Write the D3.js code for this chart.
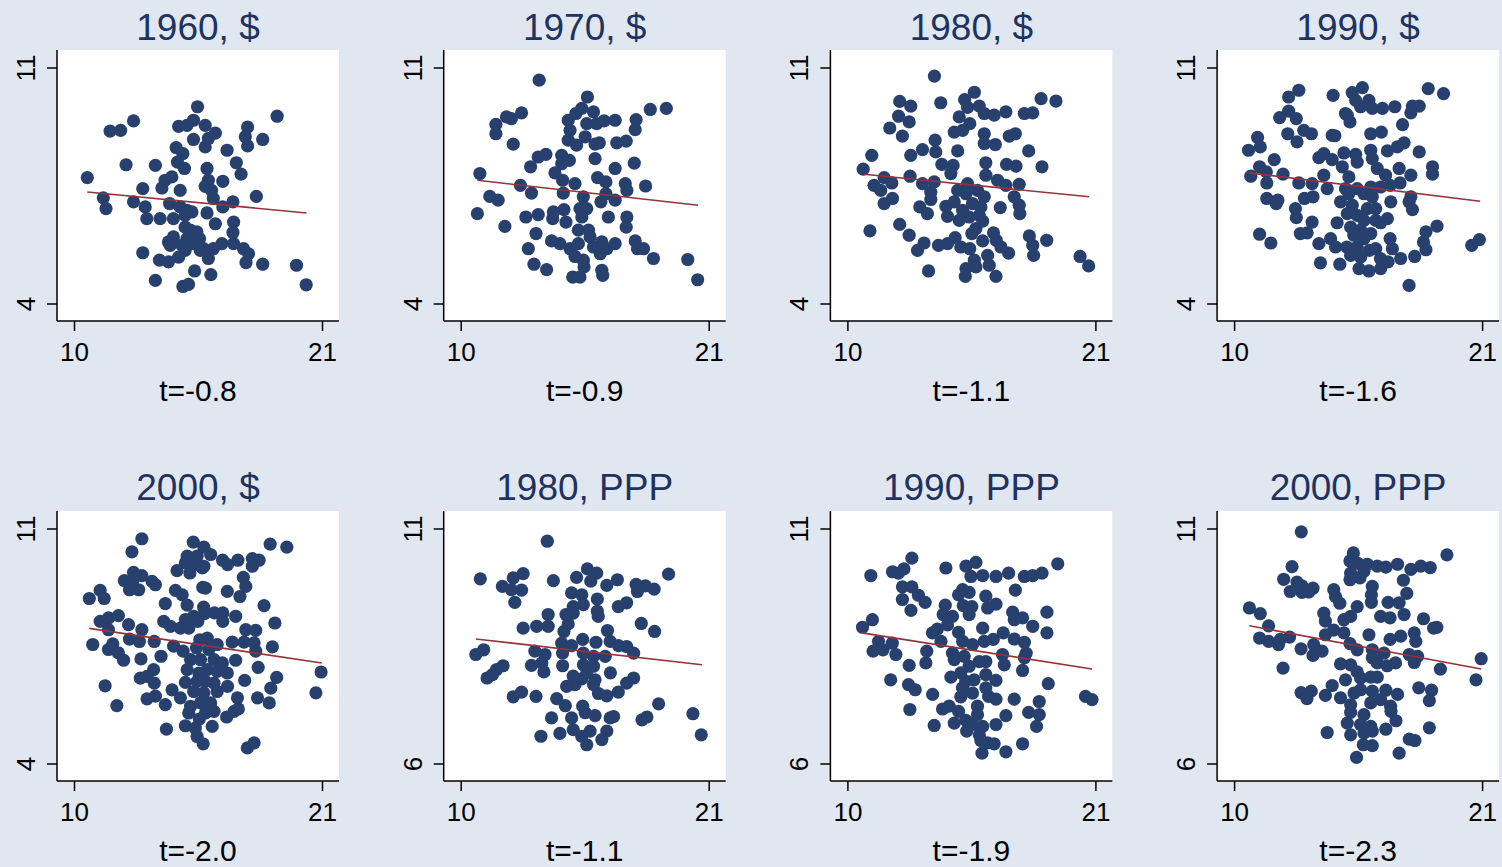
<!DOCTYPE html>
<html>
<head>
<meta charset="utf-8">
<script src="https://cdn.jsdelivr.net/npm/d3@7"></script>
<style>
  body { margin: 0; background: #e1e7f1; }
  svg { display: block; }
  text { font-family: "Liberation Sans", Arial, sans-serif; }
</style>
</head>
<body>
<div id="chart"></div>
<script>
// panel titles / footers, reading order
let titles = ['1960, $', '1970, $', '1980, $', '1990, $', '2000, $', '1980, PPP', '1990, PPP', '2000, PPP'];
let tLabels = ['t=-0.8', 't=-0.9', 't=-1.1', 't=-1.6', 't=-2.0', 't=-1.1', 't=-1.9', 't=-2.3'];
let xTicks = [10, 21];
let yTicks = [[4, 11], [4, 11], [4, 11], [4, 11], [4, 11], [6, 11], [6, 11], [6, 11]];

// fitted line endpoints [x0, y0, x1, y1]
let fits = [
    [10.59, 7.32, 20.31, 6.70],
    [10.74, 7.67, 20.53, 6.93],
    [10.74, 7.85, 20.73, 7.18],
    [10.67, 7.89, 20.91, 7.05],
    [10.68, 8.04, 20.99, 7.01],
    [10.67, 8.66, 20.70, 8.11],
    [10.64, 8.79, 20.85, 8.02],
    [10.68, 8.94, 20.96, 8.02]
];

let usd1960 = [
    [10.59,7.75],[11.30,7.15],[11.42,6.83],[11.60,9.13],[12.07,9.15],[12.64,9.43],[12.31,8.13],[13.05,7.42],
    [12.64,7.03],[13.16,6.88],[13.23,6.53],[13.05,5.52],[13.61,8.11],[13.82,6.53],[13.90,7.44],[14.04,7.67],
    [14.34,7.77],[14.24,6.98],[14.41,6.53],[13.79,5.30],[14.19,5.25],[14.19,5.84],[14.41,5.99],[13.61,4.70],
    [14.83,4.52],[15.08,4.58],[15.35,4.98],[16.07,4.87],[14.71,7.37],[14.53,8.64],[14.83,8.46],[14.59,8.21],
    [14.90,8.02],[14.64,9.27],[15.01,9.30],[15.30,9.45],[15.48,9.85],[15.82,9.30],[16.27,9.07],[15.30,8.88],
    [15.82,8.66],[15.96,8.91],[15.90,8.02],[15.96,7.67],[15.82,7.49],[16.10,7.37],[16.18,7.13],[16.60,7.64],
    [16.79,8.56],[17.20,8.19],[17.41,7.85],[17.70,9.25],[17.60,8.96],[17.70,8.69],[18.37,8.88],[19.01,9.57],
    [18.09,7.19],[17.05,7.03],[16.60,6.88],[15.01,6.78],[15.23,6.73],[14.93,6.63],[15.90,6.70],[16.27,6.38],
    [17.08,6.43],[17.05,6.12],[14.93,6.28],[15.16,6.19],[15.45,6.14],[15.57,5.94],[14.79,5.74],[14.93,5.59],
    [14.64,5.39],[15.75,5.64],[15.96,5.35],[16.18,5.64],[16.56,5.79],[17.08,5.79],[17.52,5.64],[17.74,5.49],
    [17.63,5.23],[18.37,5.18],[19.87,5.15],[20.30,4.57],[14.71,6.88],[14.27,5.74],[15.23,5.79],[15.60,5.59],
    [15.01,5.94]
];

let usd1970 = [
    [13.48,10.64],[15.62,10.14],[12.70,9.67],[12.03,9.55],[12.25,9.50],[11.56,9.33],[11.56,9.05],[12.33,8.74],
    [10.85,7.87],[11.29,7.19],[11.66,7.08],[10.74,6.68],[11.96,6.30],[12.65,7.52],[13.14,7.29],[13.10,8.07],
    [13.44,8.36],[13.78,8.44],[12.89,6.58],[13.44,6.65],[13.34,6.09],[13.00,5.64],[13.25,5.18],[13.81,5.02],
    [14.03,5.87],[14.08,6.53],[14.11,6.73],[14.40,5.79],[14.18,7.89],[14.48,8.41],[14.48,8.16],[14.82,8.26],
    [14.52,7.67],[15.07,7.57],[14.55,7.29],[14.58,6.80],[14.67,6.43],[14.77,9.45],[14.85,9.15],[14.77,8.86],
    [15.14,8.71],[15.11,9.65],[15.37,9.80],[15.89,9.70],[15.59,9.35],[16.03,9.35],[16.36,9.43],[16.85,9.45],
    [15.52,8.96],[15.96,8.74],[16.15,8.78],[15.96,8.31],[16.92,8.78],[17.34,8.83],[17.78,9.47],[17.74,9.17],
    [18.41,9.77],[19.12,9.80],[17.70,8.18],[16.85,8.02],[16.07,7.75],[16.44,7.62],[17.30,7.57],[17.37,7.37],
    [18.20,7.50],[16.44,7.27],[16.22,7.03],[16.85,7.08],[15.44,7.18],[15.29,6.83],[15.59,6.83],[15.37,6.58],
    [16.55,6.58],[17.37,6.58],[17.34,6.28],[15.22,6.19],[15.67,6.19],[15.74,5.99],[15.22,5.79],[14.85,5.64],
    [15.07,5.41],[15.44,5.30],[15.47,5.10],[14.97,4.80],[15.29,4.80],[15.89,5.69],[16.26,5.84],[16.19,5.49],
    [16.48,5.64],[16.85,5.79],[16.26,5.00],[16.30,4.85],[17.74,5.87],[17.84,5.64],[18.11,5.64],[18.55,5.35],
    [20.07,5.32],[20.51,4.72]
];

let usd1980 = [
    [13.86,10.76],[15.63,10.28],[12.32,10.01],[12.81,9.87],[14.14,9.97],[15.20,10.06],[15.33,9.83],[15.85,9.87],
    [16.07,9.65],[16.51,9.60],[17.03,9.70],[17.85,9.65],[18.22,9.67],[18.59,10.09],[19.25,10.02],[12.27,9.57],
    [12.74,9.40],[11.88,9.22],[12.44,8.98],[14.96,9.55],[15.43,9.35],[14.74,9.10],[15.11,9.15],[16.07,9.05],
    [17.18,8.98],[17.45,9.05],[13.89,8.86],[13.33,8.58],[13.92,8.51],[12.81,8.41],[14.89,8.54],[16.07,8.76],
    [16.56,8.73],[18.04,8.54],[11.08,8.41],[10.70,8.00],[14.19,8.14],[14.69,8.11],[14.59,7.87],[16.14,8.19],
    [17.06,8.14],[17.48,8.09],[18.63,8.07],[12.78,7.79],[11.63,7.75],[11.97,7.59],[11.18,7.52],[11.48,7.37],
    [13.33,7.57],[13.85,7.62],[13.70,7.32],[13.70,7.10],[12.00,7.13],[11.63,6.98],[16.14,7.82],[16.66,7.67],
    [17.03,7.52],[17.62,7.55],[15.33,7.57],[14.89,7.37],[15.26,7.27],[15.77,7.37],[16.07,7.18],[17.40,7.18],
    [17.62,6.93],[17.65,6.68],[16.78,6.86],[14.37,6.90],[14.74,7.03],[14.44,6.60],[15.11,6.78],[15.55,6.98],
    [15.92,6.88],[14.96,6.48],[15.40,6.58],[15.85,6.63],[16.00,6.46],[13.21,6.88],[13.55,6.68],[12.32,6.36],
    [11.00,6.17],[12.74,6.04],[13.40,5.81],[13.11,5.59],[14.04,5.74],[14.44,5.79],[14.78,5.97],[15.03,5.69],
    [15.43,5.64],[15.52,6.09],[15.70,6.24],[16.00,5.87],[16.48,6.11],[16.60,5.89],[16.81,5.69],[17.15,5.51],
    [16.22,5.44],[15.63,5.30],[15.70,5.10],[15.26,5.05],[15.23,4.82],[16.29,5.15],[16.59,4.82],[13.60,4.98],
    [18.07,6.02],[18.22,5.74],[18.26,5.44],[18.84,5.89],[20.32,5.41],[20.70,5.13]
];

let usd1990 = [
    [15.69,10.42],[15.24,10.27],[14.39,10.19],[12.87,10.34],[12.42,10.14],[18.61,10.39],[19.29,10.24],[15.39,10.04],
    [15.98,10.04],[15.61,9.85],[16.13,9.80],[16.58,9.80],[17.13,9.85],[17.91,9.87],[18.21,9.87],[17.84,9.67],
    [12.42,9.72],[12.02,9.53],[12.76,9.50],[14.94,9.65],[15.14,9.40],[15.02,9.60],[12.38,9.05],[13.09,9.15],
    [13.43,9.05],[12.79,8.81],[14.35,9.00],[14.47,8.99],[16.06,9.05],[16.53,9.10],[17.47,9.32],[11.04,8.94],
    [11.16,8.66],[10.64,8.56],[11.78,8.28],[11.13,8.07],[11.43,7.92],[10.74,7.79],[12.17,7.85],[11.45,7.59],
    [12.87,7.59],[13.46,7.57],[13.76,8.34],[13.98,8.46],[14.35,8.28],[13.98,7.82],[14.13,7.42],[14.87,8.48],
    [15.39,8.44],[15.46,8.21],[14.80,8.07],[15.09,7.77],[16.06,8.56],[16.13,8.31],[16.80,8.54],[17.24,8.66],
    [17.54,8.78],[18.21,8.51],[16.35,8.02],[16.72,7.82],[17.32,8.02],[17.84,7.82],[18.80,8.07],[18.80,7.85],
    [17.36,7.59],[16.92,7.52],[16.50,7.47],[16.06,7.47],[14.94,7.42],[15.46,7.42],[15.76,7.27],[16.13,7.18],
    [15.09,7.27],[11.45,7.13],[11.94,7.08],[11.87,6.98],[13.12,7.13],[13.50,7.18],[14.72,7.03],[15.24,6.93],
    [16.95,7.03],[17.84,7.18],[17.76,7.03],[17.91,6.80],[12.72,6.83],[12.76,6.56],[13.46,6.43],[12.94,6.09],
    [13.24,6.11],[14.57,6.41],[15.02,6.68],[15.46,6.63],[15.91,6.83],[16.28,6.83],[15.76,6.48],[16.28,6.48],
    [16.80,6.53],[15.17,6.28],[15.61,6.19],[16.06,6.09],[16.50,6.41],[15.31,6.04],[15.76,5.94],[11.13,6.07],
    [11.63,5.81],[13.76,5.79],[14.28,5.94],[14.50,5.69],[15.00,5.69],[15.46,5.69],[16.00,5.59],[16.28,5.64],
    [16.92,5.94],[17.02,5.64],[15.17,5.44],[15.61,5.39],[16.49,5.35],[16.83,5.25],[17.39,5.35],[13.83,5.22],
    [14.69,5.18],[15.54,5.05],[15.98,4.98],[16.50,5.05],[17.76,4.55],[18.01,5.41],[18.51,5.61],[18.40,5.84],
    [18.51,6.14],[19.00,6.31],[20.54,5.74],[20.88,5.91]
];

let usd2000 = [
    [13.01,10.71],[12.57,10.32],[15.29,10.61],[15.76,10.46],[18.70,10.55],[19.44,10.46],[15.02,10.19],[15.46,10.19],
    [16.06,10.24],[14.94,9.99],[15.31,9.94],[15.76,9.89],[16.59,10.07],[16.81,9.94],[17.27,10.07],[17.91,10.12],
    [18.21,10.07],[17.91,9.89],[14.57,9.76],[15.14,9.69],[15.69,9.84],[12.64,9.71],[12.23,9.46],[12.60,9.44],
    [13.01,9.61],[13.46,9.44],[13.61,9.34],[12.46,9.19],[12.87,9.19],[10.68,8.93],[11.16,9.17],[11.34,8.93],
    [17.51,9.56],[17.62,9.29],[17.36,8.99],[15.71,9.26],[15.83,9.24],[16.80,9.14],[14.50,9.17],[14.80,9.04],
    [14.05,8.78],[15.02,8.73],[15.75,8.67],[15.79,8.48],[16.23,8.50],[16.60,8.50],[16.60,8.25],[17.17,8.40],
    [18.43,8.72],[11.16,8.25],[11.53,8.35],[11.97,8.42],[11.53,8.00],[12.42,8.15],[13.01,8.00],[13.98,8.25],
    [14.28,8.10],[14.72,8.05],[14.94,8.30],[15.31,8.40],[15.49,8.25],[15.09,8.05],[18.91,8.20],[17.62,8.00],
    [18.06,7.98],[10.83,7.56],[11.53,7.41],[11.72,7.58],[11.97,7.31],[12.20,7.09],[12.46,7.72],[12.90,7.65],
    [13.56,7.65],[14.42,7.51],[14.84,7.36],[13.86,7.21],[12.97,7.13],[15.58,7.70],[15.91,7.75],[15.43,7.46],
    [15.98,7.41],[16.35,7.56],[17.02,7.63],[17.54,7.63],[17.99,7.61],[18.06,7.36],[18.80,7.49],[15.17,7.11],
    [15.61,7.11],[16.21,7.11],[16.58,7.01],[17.17,7.09],[15.02,6.81],[15.54,6.71],[15.91,6.81],[16.35,6.76],
    [16.80,6.71],[18.17,6.88],[20.96,6.74],[13.53,6.81],[13.24,6.61],[12.94,6.56],[13.56,6.41],[11.38,6.33],
    [14.94,6.43],[15.46,6.46],[15.83,6.46],[16.21,6.41],[16.81,6.31],[17.57,6.49],[18.99,6.58],[18.73,6.26],
    [15.31,6.16],[15.76,6.12],[16.35,6.16],[14.35,6.21],[14.72,5.97],[13.24,5.94],[13.61,6.02],[14.05,5.77],
    [11.90,5.74],[15.17,5.72],[15.61,5.82],[16.06,5.82],[17.25,5.97],[17.29,5.64],[18.14,5.97],[18.66,5.82],
    [20.73,6.12],[15.09,5.52],[15.83,5.52],[16.21,5.57],[16.77,5.40],[17.10,5.57],[15.56,5.34],[14.94,5.14],
    [15.38,5.07],[16.13,5.12],[14.10,5.04],[15.46,4.82],[15.73,4.60],[17.69,4.48],[17.99,4.63]
];

let ppp1980 = [
    [13.84,10.74],[10.87,9.94],[12.33,9.96],[12.77,10.05],[11.85,9.78],[12.25,9.71],[12.70,9.70],[12.40,9.44],
    [14.11,9.90],[15.14,9.97],[15.62,10.15],[16.03,10.06],[15.77,9.89],[16.48,9.80],[16.95,9.92],[14.92,9.64],
    [15.37,9.60],[16.06,9.51],[15.44,9.39],[14.99,9.35],[14.99,9.21],[14.67,9.18],[16.06,9.25],[16.10,9.14],
    [16.99,9.35],[17.36,9.43],[17.78,9.82],[17.84,9.67],[18.19,9.79],[18.58,9.72],[19.22,10.04],[18.01,8.99],
    [18.60,8.82],[13.88,9.18],[13.88,8.93],[13.37,8.93],[12.77,8.89],[14.58,8.82],[14.77,8.98],[16.51,8.84],
    [10.67,8.33],[11.02,8.43],[13.29,8.40],[13.74,8.33],[14.48,8.57],[14.92,8.52],[15.41,8.65],[16.00,8.59],
    [16.63,8.61],[17.00,8.52],[17.36,8.50],[17.67,8.36],[15.44,8.36],[15.89,8.29],[16.41,8.29],[14.52,8.36],
    [13.60,8.15],[13.14,8.10],[14.52,8.09],[13.69,7.96],[11.88,8.09],[11.59,8.01],[11.41,7.90],[11.17,7.83],
    [15.44,8.11],[15.89,8.08],[15.59,7.94],[15.37,7.81],[15.96,7.79],[14.99,7.87],[15.07,7.69],[16.64,7.94],
    [17.67,7.83],[17.36,7.72],[14.70,7.65],[15.89,7.69],[16.11,7.50],[16.48,7.45],[16.99,7.53],[12.33,7.43],
    [12.70,7.53],[13.34,7.44],[14.26,7.39],[14.64,7.24],[15.41,7.23],[15.52,7.09],[15.96,7.03],[16.63,6.98],
    [16.78,7.01],[14.03,6.98],[14.92,6.98],[14.99,6.73],[15.74,6.70],[15.37,6.59],[16.48,6.70],[16.26,6.52],
    [15.59,6.41],[14.40,6.65],[13.56,6.59],[18.04,6.94],[18.26,7.00],[18.78,7.28],[20.30,7.07],[20.67,6.62]
];

let ppp1990 = [
    [12.86,10.38],[11.04,10.01],[12.00,10.09],[12.26,10.06],[12.51,10.15],[14.37,10.17],[15.26,10.21],[15.70,10.29],
    [15.48,9.99],[16.00,10.01],[16.59,9.99],[17.15,10.06],[17.85,9.99],[18.22,10.01],[18.63,10.06],[19.33,10.26],
    [12.44,9.77],[12.86,9.77],[12.44,9.50],[13.15,9.59],[13.45,9.44],[12.82,9.27],[15.11,9.71],[15.40,9.65],
    [14.93,9.60],[16.14,9.57],[16.59,9.40],[16.22,9.32],[17.45,9.70],[14.34,9.38],[14.25,9.18],[15.14,9.37],
    [15.52,9.35],[15.40,9.18],[14.66,9.14],[14.44,8.96],[17.33,9.23],[17.40,9.07],[17.77,9.11],[18.85,9.23],
    [18.85,8.79],[18.22,8.93],[11.11,9.07],[10.67,8.91],[11.38,8.61],[11.58,8.43],[11.14,8.40],[11.99,8.57],
    [12.15,8.33],[13.77,8.79],[13.99,8.87],[14.15,8.61],[14.93,8.80],[15.11,8.61],[16.00,8.89],[16.47,8.65],
    [16.91,8.79],[17.40,8.66],[17.85,8.59],[16.07,8.61],[15.55,8.54],[13.52,8.40],[13.48,8.15],[12.74,8.10],
    [14.66,8.36],[14.74,8.22],[15.18,8.29],[15.40,8.08],[15.85,8.18],[16.14,8.18],[16.88,8.33],[16.96,8.11],
    [17.93,8.36],[17.85,8.26],[17.77,7.99],[15.03,7.94],[14.59,7.85],[15.25,7.76],[15.62,7.79],[16.14,7.90],
    [16.59,7.78],[15.10,7.62],[16.14,7.62],[15.55,7.51],[15.03,7.43],[16.26,7.44],[16.59,7.38],[17.40,7.38],
    [18.91,7.71],[11.92,7.79],[12.71,7.69],[13.01,7.58],[13.78,7.48],[12.77,7.16],[14.22,7.17],[14.51,7.23],
    [14.93,7.12],[15.77,7.23],[15.77,7.05],[14.74,6.87],[15.25,6.93],[15.55,6.84],[16.00,6.80],[16.59,6.84],
    [17.03,7.03],[13.85,6.82],[15.29,6.70],[15.85,6.62],[15.92,6.50],[16.22,6.45],[16.51,6.43],[15.97,6.23],
    [17.03,6.26],[17.77,6.43],[18.04,7.10],[18.51,7.05],[18.51,7.33],[18.39,6.80],[20.56,7.44],[20.85,7.37]
];

let ppp2000 = [
    [12.98,10.94],[19.44,10.45],[15.29,10.49],[12.57,10.20],[12.20,9.93],[15.14,10.32],[15.49,10.27],[15.91,10.25],
    [16.35,10.21],[16.73,10.19],[17.25,10.25],[17.84,10.14],[18.28,10.21],[18.70,10.18],[15.17,10.06],[15.76,10.10],
    [15.14,9.92],[15.58,9.96],[17.51,9.91],[12.79,9.87],[13.01,9.79],[12.49,9.67],[13.01,9.65],[13.50,9.74],
    [13.31,9.66],[14.42,9.71],[16.13,9.78],[16.09,9.60],[17.66,9.63],[14.50,9.56],[14.69,9.42],[15.46,9.35],
    [16.09,9.44],[16.83,9.44],[17.32,9.43],[17.54,9.18],[10.68,9.32],[11.16,9.20],[13.98,9.21],[14.05,9.04],
    [15.17,9.14],[14.87,9.07],[16.50,9.14],[16.92,9.11],[18.40,9.09],[18.85,8.89],[18.99,8.91],[11.53,8.94],
    [11.13,8.68],[11.53,8.61],[11.97,8.54],[12.05,8.65],[12.46,8.70],[12.97,8.45],[13.53,8.54],[13.50,8.31],
    [13.90,8.40],[14.05,8.75],[14.42,8.85],[14.87,8.79],[15.14,8.56],[15.98,8.75],[16.92,8.65],[17.39,8.72],
    [17.99,8.79],[18.06,8.61],[15.46,8.43],[16.13,8.43],[16.65,8.36],[17.77,8.33],[18.14,8.29],[17.99,8.16],
    [14.72,8.13],[15.17,8.11],[15.46,7.96],[16.13,8.26],[16.35,8.15],[16.79,8.09],[17.16,8.15],[19.15,8.02],
    [20.96,8.24],[20.73,7.79],[12.17,8.04],[14.94,7.79],[15.61,7.83],[16.06,7.85],[16.35,7.85],[14.35,7.67],
    [12.97,7.52],[13.42,7.55],[13.23,7.39],[14.05,7.46],[14.72,7.41],[15.32,7.51],[15.61,7.58],[16.13,7.55],
    [16.73,7.57],[17.25,7.48],[18.19,7.62],[18.76,7.57],[18.66,7.35],[16.06,7.30],[16.50,7.37],[16.94,7.23],
    [15.17,7.26],[15.17,7.10],[15.76,7.05],[15.02,6.87],[15.61,6.84],[16.06,6.80],[16.73,6.74],[17.18,6.92],
    [16.96,7.12],[18.66,6.77],[14.13,6.67],[15.17,6.62],[15.76,6.66],[16.13,6.70],[15.73,6.41],[16.13,6.39],
    [15.43,6.14],[17.32,6.23],[17.77,6.53],[18.02,6.50]
];

let panelData = [usd1960, usd1970, usd1980, usd1990, usd2000, ppp1980, ppp1990, ppp2000];

const WIDTH = 1502, HEIGHT = 867;
const bg = '#e1e7f1';
const navy = '#27406e';
const maroon = '#96323b';
const titleColor = '#1e3360';

const plotW = 282;
const colStep = 386.7;
const leftStart = 57;
const rows = [
    { top: 50, bottom: 321, yHi: 68, yLo: 304, titleY: 40, tY: 401 },
    { top: 511, bottom: 781, yHi: 529, yLo: 764, titleY: 500, tY: 861 }
];

let svg = d3.select('#chart').append('svg')
    .attr('width', WIDTH)
    .attr('height', HEIGHT);

svg.append('rect')
    .attr('width', WIDTH)
    .attr('height', HEIGHT)
    .attr('fill', bg);

panelData.forEach((pts, i) => {
    let col = i % 4, r = rows[Math.floor(i / 4)];
    let left = leftStart + col * colStep;

    let xScale = d3.scaleLinear()
        .domain(xTicks)
        .range([left + 17, left + 265]);
    let yScale = d3.scaleLinear()
        .domain(yTicks[i])
        .range([r.yLo, r.yHi]);

    let g = svg.append('g').attr('id', `panel-${i}`);

    g.append('rect')
        .attr('x', left)
        .attr('y', r.top)
        .attr('width', plotW)
        .attr('height', r.bottom - r.top)
        .attr('fill', 'white');

    g.append('g')
        .selectAll('circle')
        .data(pts)
        .join('circle')
        .attr('cx', d => xScale(d[0]))
        .attr('cy', d => yScale(d[1]))
        .attr('r', 6.6)
        .attr('fill', navy);

    let f = fits[i];
    g.append('line')
        .attr('x1', xScale(f[0]))
        .attr('y1', yScale(f[1]))
        .attr('x2', xScale(f[2]))
        .attr('y2', yScale(f[3]))
        .attr('stroke', maroon)
        .attr('stroke-width', 1.6);

    // axes, stata-ish: line along the plot edge, outward ticks
    let xAxis = g.append('g')
        .attr('transform', `translate(0,${r.bottom})`)
        .call(d3.axisBottom(xScale).tickValues(xTicks).tickSize(10).tickPadding(12).tickFormat(d3.format('d')));
    xAxis.select('.domain').attr('d', `M${left},0H${left + plotW}`);

    let yAxis = g.append('g')
        .attr('transform', `translate(${left},0)`)
        .call(d3.axisLeft(yScale).tickValues(yTicks[i]).tickSize(10).tickPadding(5).tickFormat(d3.format('d')));
    yAxis.select('.domain').attr('d', `M0,${r.top}V${r.bottom}`);

    [xAxis, yAxis].forEach(a => {
        a.selectAll('path, line').attr('stroke', 'black').attr('stroke-width', 1.5);
        a.selectAll('text')
            .attr('fill', 'black')
            .style('font-size', '26px')
            .style('font-family', '"Liberation Sans", Arial, sans-serif');
    });

    xAxis.selectAll('text').attr('dy', '0.71em');
    yAxis.selectAll('text')
        .attr('text-anchor', 'middle')
        .attr('dy', null)
        .attr('x', null)
        .attr('transform', d => `translate(-22,${yScale(d)}) rotate(-90)`)
        .attr('y', 0);
    // d3 sets y via transform of the tick group, undo that for rotated labels
    yAxis.selectAll('.tick').attr('transform', null);
    yAxis.selectAll('.tick line').attr('transform', d => `translate(0,${yScale(d)})`);

    g.append('text')
        .attr('x', left + plotW / 2)
        .attr('y', r.titleY)
        .attr('text-anchor', 'middle')
        .attr('fill', titleColor)
        .style('font-size', '37px')
        .text(titles[i]);

    g.append('text')
        .attr('x', left + plotW / 2)
        .attr('y', r.tY)
        .attr('text-anchor', 'middle')
        .attr('fill', 'black')
        .style('font-size', '30px')
        .text(tLabels[i]);
});
</script>
</body>
</html>
